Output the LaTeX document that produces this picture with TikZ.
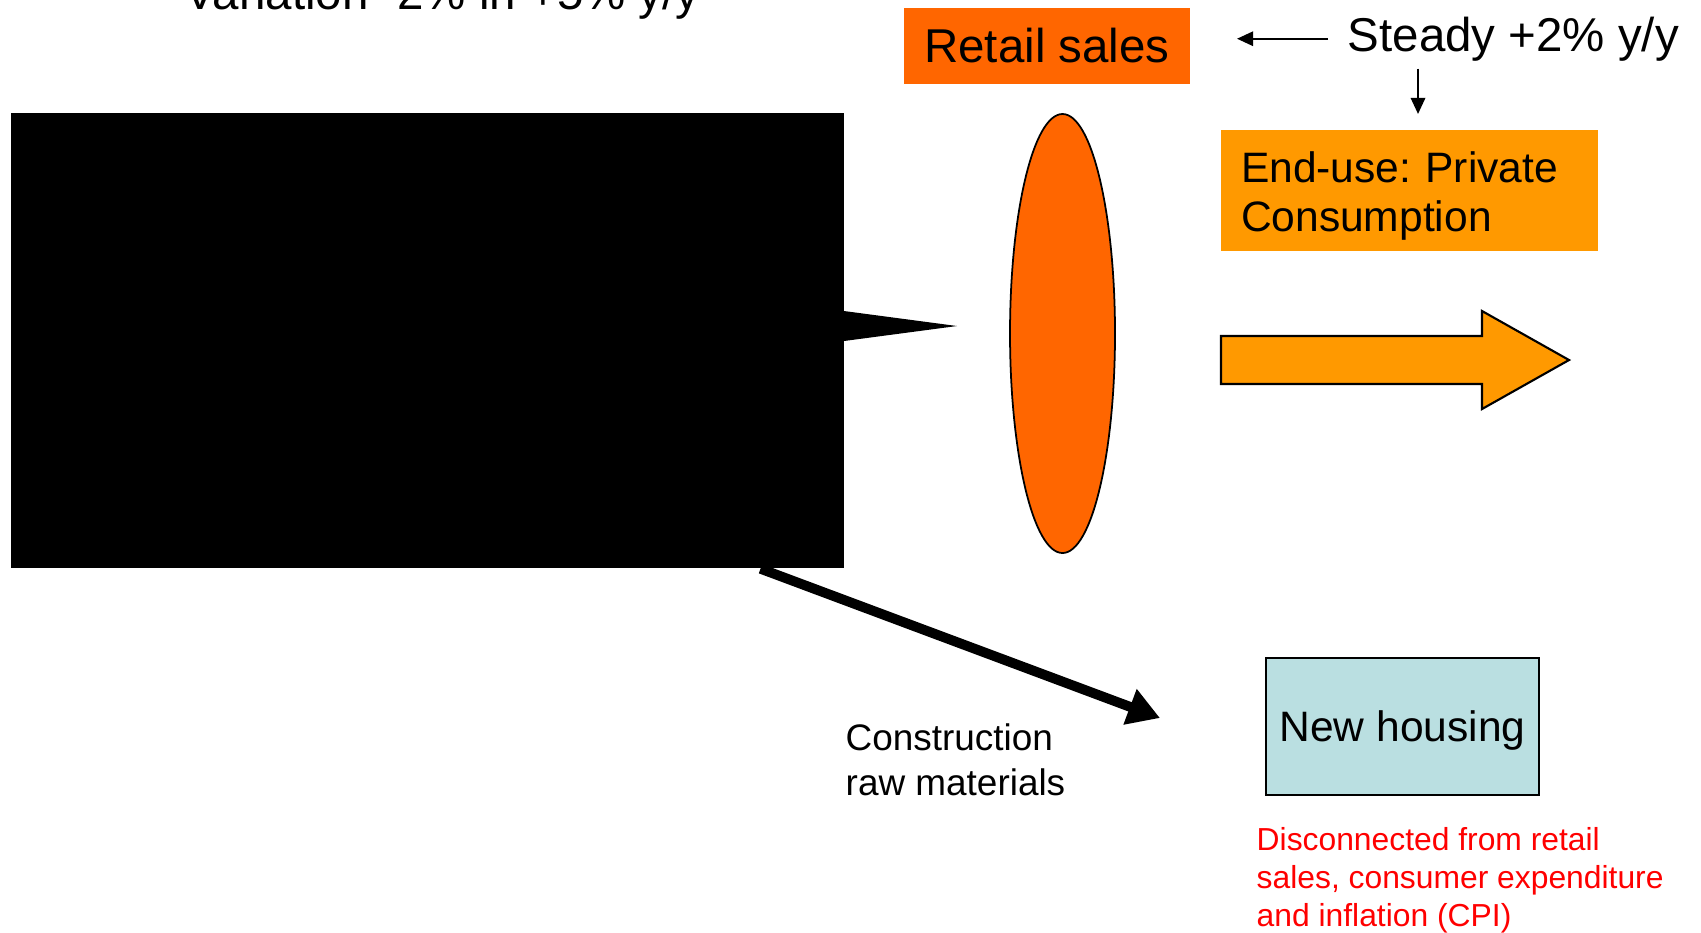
\documentclass[tikz,border=0pt]{standalone}
\usepackage{fontspec}
\setmainfont{Liberation Sans}
\usetikzlibrary{shapes.geometric,arrows.meta,positioning}
\newlength{\du}
\setlength{\du}{0.010000cm}
\frenchspacing

\begin{document}
\begin{tikzpicture}[yscale=-1,
  box/.style={rectangle, inner sep=0pt},
  bigtext/.style={font=\fontsize{13.5}{16}\selectfont},
  boxtext/.style={font=\fontsize{12.1}{13.9}\selectfont},
  midtext/.style={font=\fontsize{10.5}{12.8}\selectfont},
  redtext/.style={font=\fontsize{9.05}{10.7}\selectfont, text=notered},
  thinarrow/.style={line width=0.6pt, -{Triangle[length=4.6pt,width=4.1pt]}},
  thickarrow/.style={line width=2.8pt, -{Triangle[length=9.1pt,width=10.2pt]}}]
\definecolor{retailorange}{rgb}{1.000000, 0.400000, 0.000000}
\definecolor{endorange}{rgb}{1.000000, 0.600000, 0.000000}
\definecolor{housingblue}{rgb}{0.729000, 0.875000, 0.882000}
\definecolor{notered}{rgb}{1.000000, 0.000000, 0.000000}
\clip (0\du,0\du) rectangle (1701\du,932\du);
% text cut at the top edge
\node[anchor=base west, inner sep=0pt, bigtext] (variation) at (184\du,9\du) {Variation -2\% in +5\% y/y};
% black callout
\node[box, fill=black, minimum width=833\du, minimum height=455\du] (source) at (427.5\du,340.5\du) {};
\fill (844\du,311\du)--(957\du,326\du)--(844\du,341\du)--cycle;
\node[box, fill=retailorange, minimum width=286\du, minimum height=76\du, bigtext] (retail) at (1047\du,46\du) {Retail sales};
\node[anchor=base west, inner sep=2pt, bigtext] (steady) at (1340\du,51\du) {Steady +2\% y/y};
\coordinate (salesin) at (1237\du,39\du);
\coordinate (downtip) at (1418\du,114\du);
\draw[thinarrow] ([xshift=-12\du]steady.west)--(steady.west -| salesin);
\draw[thinarrow] (steady.south -| downtip)--(downtip);
\node[box, fill=endorange, minimum width=377\du, minimum height=121\du] (enduse) at (1409.5\du,190.5\du) {};
\node[box, text width=337\du, align=left, boxtext] (enduselabel) at (1409.5\du,196\du) {End-use: Private\\Consumption};
\node[ellipse, draw, line width=0.5pt, fill=retailorange, minimum width=105\du, minimum height=439\du, inner sep=0pt] (lens) at (1062.5\du,333.5\du) {};
% big orange arrow
\draw[line width=0.6pt, fill=endorange] (1221\du,336\du)--(1482\du,336\du)--(1482\du,311\du)--(1569\du,360\du)--(1482\du,409\du)--(1482\du,384\du)--(1221\du,384\du)--cycle;
\coordinate (housein) at (1160\du,718\du);
\draw[thickarrow] ([xshift=333\du]source.south)--(housein);
\node[anchor=north west, inner sep=0pt, align=left, midtext] (rawmat) at (845\du,723\du) {Construction\\raw materials};
\node[box, draw, line width=0.6pt, fill=housingblue, minimum width=273\du, minimum height=137\du, text depth=0pt, boxtext] (housing) at (1402.5\du,726.5\du) {New housing};
\node[anchor=north west, inner sep=0pt, align=left, redtext] (note) at (1256\du,827\du) {Disconnected from retail\\sales, consumer expenditure\\and inflation (CPI)};
\end{tikzpicture}
\end{document}
